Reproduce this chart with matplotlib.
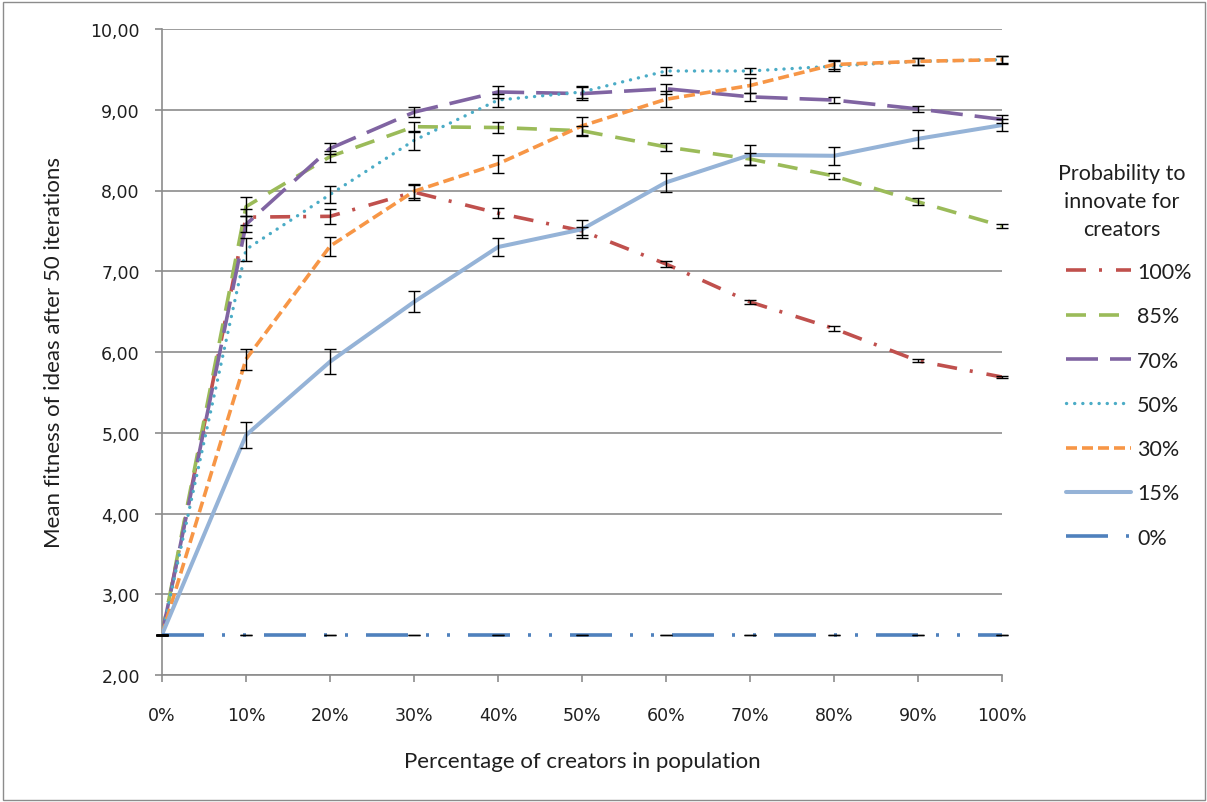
import matplotlib
matplotlib.use("Agg")
import matplotlib.pyplot as plt
from matplotlib.patches import Rectangle

plt.rcParams['lines.scale_dashes'] = False

# ---------------- data ----------------
x_pct = [0, 10, 20, 30, 40, 50, 60, 70, 80, 90, 100]
x_tick_labels = ['0%', '10%', '20%', '30%', '40%', '50%', '60%', '70%', '80%', '90%', '100%']
y_ticks = [2, 3, 4, 5, 6, 7, 8, 9, 10]
y_tick_labels = ['2,00', '3,00', '4,00', '5,00', '6,00', '7,00', '8,00', '9,00', '10,00']

series_labels = ['100%', '85%', '70%', '50%', '30%', '15%', '0%']
legend_title = 'Probability to\ninnovate for\ncreators'

p100 = [2.50, 7.67, 7.68, 7.98, 7.72, 7.50, 7.09, 6.62, 6.29, 5.89, 5.69]
p85 = [2.50, 7.80, 8.42, 8.79, 8.78, 8.74, 8.54, 8.39, 8.18, 7.86, 7.56]
p70 = [2.50, 7.58, 8.52, 8.97, 9.22, 9.20, 9.26, 9.16, 9.12, 9.01, 8.88]
p50 = [2.50, 7.27, 7.95, 8.62, 9.12, 9.22, 9.48, 9.48, 9.54, 9.60, 9.62]
p30 = [2.50, 5.91, 7.31, 7.99, 8.33, 8.80, 9.13, 9.30, 9.56, 9.60, 9.62]
p15 = [2.50, 4.97, 5.88, 6.62, 7.30, 7.52, 8.10, 8.44, 8.43, 8.64, 8.81]
p0 = [2.50, 2.50, 2.50, 2.50, 2.50, 2.50, 2.50, 2.50, 2.50, 2.50, 2.50]

e100 = [0, 0.10, 0.09, 0.10, 0.06, 0.05, 0.04, 0.025, 0.03, 0.02, 0.01]
e85 = [0, 0.12, 0.07, 0.06, 0.07, 0.06, 0.05, 0.07, 0.04, 0.045, 0.03]
e70 = [0, 0.10, 0.07, 0.06, 0.08, 0.08, 0.06, 0.05, 0.04, 0.04, 0.05]
e50 = [0, 0.14, 0.10, 0.12, 0.08, 0.08, 0.055, 0.04, 0.06, 0.04, 0.04]
e30 = [0, 0.13, 0.12, 0.08, 0.11, 0.11, 0.10, 0.09, 0.06, 0.04, 0.05]
e15 = [0, 0.165, 0.155, 0.13, 0.11, 0.11, 0.12, 0.12, 0.11, 0.11, 0.07]
e0 = [0, 0, 0, 0, 0, 0, 0, 0, 0, 0, 0]

values = [p100, p85, p70, p50, p30, p15, p0]
errors = [e100, e85, e70, e50, e30, e15, e0]

# ---------------- styles ----------------
PX = 0.72  # px -> pt at dpi 100
colors = ['#C0504D', '#9BBB59', '#8064A2', '#4BACC6', '#F79646', '#95B3D7', '#4F81BD']
dashes = [
    (0, (20 * PX, 13 * PX, 3 * PX, 14 * PX)),
    (0, (20 * PX, 13 * PX)),
    (0, (32 * PX, 12 * PX)),
    (0, (0.1, 8 * PX)),
    (0, (11 * PX, 5 * PX)),
    '-',
    (0, (42 * PX, 18 * PX, 3 * PX, 18 * PX, 3 * PX, 18 * PX)),
]
capstyles = ['butt', 'butt', 'butt', 'round', 'butt', 'round', 'butt']
widths = [2.6, 2.6, 2.6, 2.4, 2.6, 2.9, 2.6]
text_col = '#1F1F1F'
title_font = 'Lato'

fig = plt.figure(figsize=(12.07, 8.03), dpi=100)
fig.patch.set_facecolor('white')
fig.patches.append(Rectangle((2.5 / 1207, 2.5 / 803), 1 - 5 / 1207, 1 - 5 / 803,
                             transform=fig.transFigure, fill=False,
                             edgecolor='#8C8C8C', linewidth=1.0))

ax = fig.add_axes([162 / 1207, 1 - 676 / 803, 840 / 1207, 646 / 803])
ax.set_xlim(0, 100)
ax.set_ylim(2, 10)

grid_col = '#8C8C8C'
for s in ['top', 'right']:
    ax.spines[s].set_visible(False)
for s in ['left', 'bottom']:
    ax.spines[s].set_color(grid_col)
    ax.spines[s].set_linewidth(1.2)
ax.yaxis.grid(True, color=grid_col, linewidth=1.2)
ax.set_axisbelow(True)

ax.set_yticks(y_ticks)
ax.set_yticklabels(y_tick_labels)
ax.set_xticks(x_pct)
ax.set_xticklabels(x_tick_labels)
ax.tick_params(axis='y', length=5, width=1.2, color=grid_col, pad=11,
               labelsize=12.5, labelcolor=text_col)
ax.tick_params(axis='x', length=5, width=1.2, color=grid_col, pad=17,
               labelsize=12.5, labelcolor=text_col)
for lab in ax.get_xticklabels() + ax.get_yticklabels():
    lab.set_fontfamily('DejaVu Sans')

handles = []
for vals, col, ls, cs, lw, lab in zip(values, colors, dashes, capstyles, widths, series_labels):
    ln, = ax.plot(x_pct, vals, color=col, linestyle=ls, linewidth=lw,
                  dash_capstyle=cs, solid_capstyle='round', label=lab, zorder=3)
    handles.append(ln)
for vals, errs in zip(values, errors):
    ax.errorbar(x_pct, vals, yerr=errs, fmt='none', ecolor='black',
                elinewidth=1.0, capsize=4.2, capthick=1.0, zorder=5, clip_on=False)

ax.set_xlabel('Percentage of creators in population', fontsize=16,
              fontfamily=title_font, color=text_col)
ax.xaxis.set_label_coords(0.5, -0.118)
ax.set_ylabel('Mean fitness of ideas after 50 iterations', fontsize=16,
              fontfamily=title_font, color=text_col)
ax.yaxis.set_label_coords(-0.1167, 0.5)

# legend title
fig.text(1122 / 1207, 1 - 202 / 803, legend_title, ha='center', va='center',
         multialignment='center', linespacing=1.5, fontsize=15.5,
         fontfamily=title_font, color=text_col)

leg = fig.legend(handles=handles, labels=series_labels,
                 loc='upper left', bbox_to_anchor=(1066 / 1207, 1 - 263 / 803),
                 frameon=False, handlelength=3.0, handletextpad=0.3,
                 labelspacing=1.128, borderaxespad=0, borderpad=0,
                 prop={'family': title_font, 'size': 15.5})
for t in leg.get_texts():
    t.set_color(text_col)

fig.savefig('out.png', dpi=100)
